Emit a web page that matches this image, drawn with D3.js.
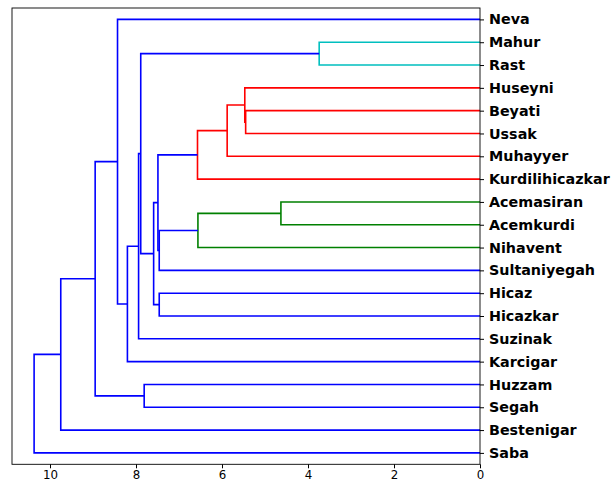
<!DOCTYPE html>
<html>
<head>
<meta charset="utf-8">
<script src="https://cdn.jsdelivr.net/npm/d3@7"></script>
<style>
  body { margin: 0; background: #fff; }
  text { font-family: "DejaVu Sans", sans-serif; }
</style>
</head>
<body>
<script>
// leaves, top to bottom
const leaves = ["Neva", "Mahur", "Rast", "Huseyni", "Beyati", "Ussak", "Muhayyer",
  "Kurdilihicazkar", "Acemasiran", "Acemkurdi", "Nihavent", "Sultaniyegah", "Hicaz",
  "Hicazkar", "Suzinak", "Karcigar", "Huzzam", "Segah", "Bestenigar", "Saba"];

// merges: a number refers to an earlier merge (index in these arrays)
const mergeA = ["Mahur", "Acemasiran", "Beyati", "Huseyni", 3, 4, 1, 6, "Hicaz", 5, 9, "Huzzam", 0, 12, 13, "Neva", 15, 16, 17];
const mergeB = ["Rast", "Acemkurdi", "Ussak", 2, "Muhayyer", "Kurdilihicazkar", "Nihavent", "Sultaniyegah", "Hicazkar", 7, 8, "Segah", 10, "Suzinak", "Karcigar", 14, 11, "Bestenigar", "Saba"];
const mergeH = [3.74, 4.63, 5.45, 5.47, 5.88, 6.57, 6.56, 7.46, 7.46, 7.49, 7.59, 7.81, 7.89, 7.94, 8.20, 8.43, 8.95, 9.75, 10.37];
const mergeColor = ["c", "g", "r", "r", "r", "r", "g", "b", "b", "b", "b", "b", "b", "b", "b", "b", "b", "b", "b"];

const xTicks = [10, 8, 6, 4, 2, 0];

const colors = { b: "#0000ff", g: "#008000", r: "#ff0000", c: "#00bfbf" };

const width = 612, height = 482;
const plotLeft = 12, plotRight = 480, plotTop = 8, plotBottom = 464.3;

const svg = d3.select("body").append("svg")
  .attr("width", width)
  .attr("height", height);

const x = d3.scaleLinear().domain([10.884, 0]).range([plotLeft, plotRight]);
// scipy style: leaves sit at 5, 15, ... on a 0..10*n axis
const y = d3.scaleLinear().domain([0, leaves.length * 10]).range([plotTop, plotBottom]);

const leafY = name => y(5 + 10 * leaves.indexOf(name));

// position of every merge (y = middle of its two children)
const pos = [];
function child(c) {
  if (typeof c === "number") return pos[c];
  return { y: leafY(c), h: 0 };
}
mergeH.forEach((h, i) => {
  const a = child(mergeA[i]);
  const b = child(mergeB[i]);
  pos.push({ y: (a.y + b.y) / 2, h: h, a: a, b: b });
});

const g = svg.append("g");
g.selectAll("path")
  .data(pos)
  .enter()
  .append("path")
  .attr("fill", "none")
  .attr("stroke-width", 1.6)
  .attr("stroke", (d, i) => colors[mergeColor[i]])
  .attr("d", d => `M${x(d.a.h)},${d.a.y}H${x(d.h)}V${d.b.y}H${x(d.b.h)}`);

// bottom axis (labels kept just inside the page edge)
const xAxis = svg.append("g")
  .attr("transform", `translate(0,${plotBottom})`)
  .call(d3.axisBottom(x).tickValues(xTicks).tickSize(4).tickPadding(2).tickFormat(d3.format("d")));
xAxis.select(".domain").remove();
xAxis.selectAll("text").style("font-size", "11.8px").attr("fill", "#000");

// right axis with leaf labels
const yAxis = svg.append("g")
  .attr("transform", `translate(${plotRight},0)`)
  .call(d3.axisRight(y).tickValues(leaves.map((d, i) => 5 + 10 * i)).tickSize(4).tickPadding(5)
    .tickFormat((d, i) => leaves[i]));
yAxis.select(".domain").remove();
yAxis.selectAll("text")
  .style("font-size", "14.3px")
  .style("font-weight", "bold")
  .attr("fill", "#000");

// frame
svg.append("rect")
  .attr("x", plotLeft)
  .attr("y", plotTop)
  .attr("width", plotRight - plotLeft)
  .attr("height", plotBottom - plotTop)
  .attr("fill", "none")
  .attr("stroke", "#000")
  .attr("stroke-width", 0.9);
</script>
</body>
</html>
